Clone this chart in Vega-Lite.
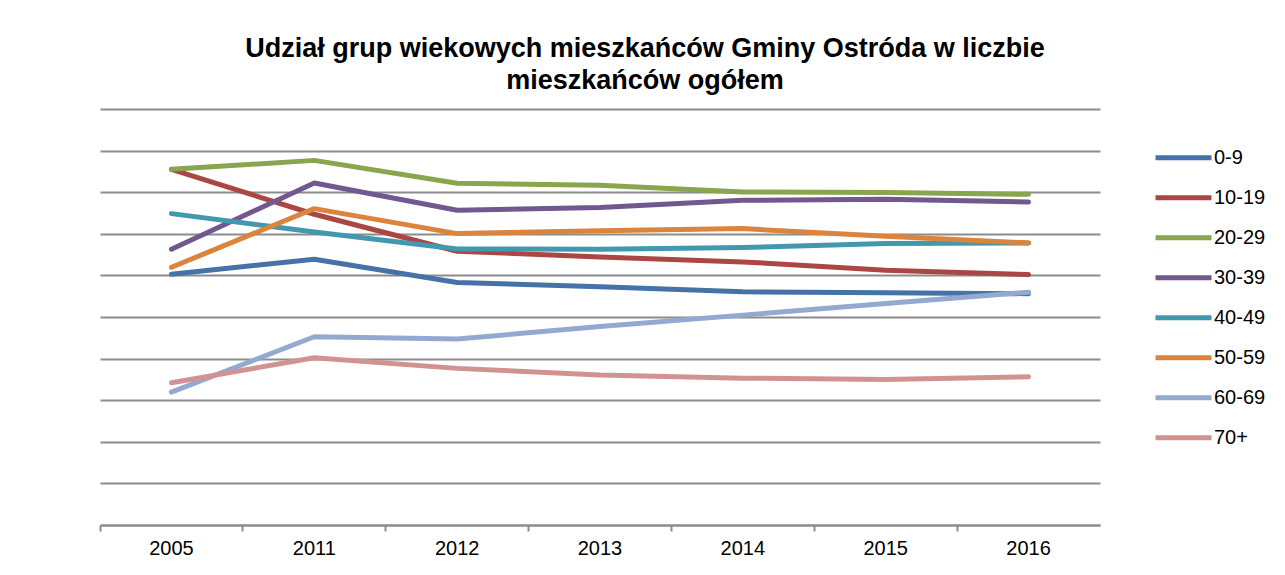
{
  "$schema": "https://vega.github.io/schema/vega-lite/v6.json",
  "width": 1000,
  "height": 416,
  "autosize": {"type": "none"},
  "padding": {"left": 100, "top": 109, "right": 185, "bottom": 50},
  "background": "white",
  "title": {
    "text": ["Udział grup wiekowych mieszkańców Gminy Ostróda w liczbie", "mieszkańców ogółem"],
    "font": "Liberation Sans",
    "fontSize": 27,
    "fontWeight": "bold",
    "color": "#000000",
    "lineHeight": 32,
    "anchor": "middle",
    "dx": 45,
    "offset": 14
  },
  "data": {
    "values": [
      {"year": "2005", "group": "0-9", "value": 12.06},
      {"year": "2011", "group": "0-9", "value": 12.78},
      {"year": "2012", "group": "0-9", "value": 11.66},
      {"year": "2013", "group": "0-9", "value": 11.45},
      {"year": "2014", "group": "0-9", "value": 11.21},
      {"year": "2015", "group": "0-9", "value": 11.17},
      {"year": "2016", "group": "0-9", "value": 11.12},
      {"year": "2005", "group": "10-19", "value": 17.10},
      {"year": "2011", "group": "10-19", "value": 14.94},
      {"year": "2012", "group": "10-19", "value": 13.16},
      {"year": "2013", "group": "10-19", "value": 12.89},
      {"year": "2014", "group": "10-19", "value": 12.65},
      {"year": "2015", "group": "10-19", "value": 12.25},
      {"year": "2016", "group": "10-19", "value": 12.04},
      {"year": "2005", "group": "20-29", "value": 17.10},
      {"year": "2011", "group": "20-29", "value": 17.53},
      {"year": "2012", "group": "20-29", "value": 16.43},
      {"year": "2013", "group": "20-29", "value": 16.33},
      {"year": "2014", "group": "20-29", "value": 16.01},
      {"year": "2015", "group": "20-29", "value": 15.98},
      {"year": "2016", "group": "20-29", "value": 15.90},
      {"year": "2005", "group": "30-39", "value": 13.26},
      {"year": "2011", "group": "30-39", "value": 16.44},
      {"year": "2012", "group": "30-39", "value": 15.13},
      {"year": "2013", "group": "30-39", "value": 15.26},
      {"year": "2014", "group": "30-39", "value": 15.61},
      {"year": "2015", "group": "30-39", "value": 15.66},
      {"year": "2016", "group": "30-39", "value": 15.53},
      {"year": "2005", "group": "40-49", "value": 14.97},
      {"year": "2011", "group": "40-49", "value": 14.09},
      {"year": "2012", "group": "40-49", "value": 13.27},
      {"year": "2013", "group": "40-49", "value": 13.26},
      {"year": "2014", "group": "40-49", "value": 13.34},
      {"year": "2015", "group": "40-49", "value": 13.53},
      {"year": "2016", "group": "40-49", "value": 13.56},
      {"year": "2005", "group": "50-59", "value": 12.39},
      {"year": "2011", "group": "50-59", "value": 15.21},
      {"year": "2012", "group": "50-59", "value": 14.01},
      {"year": "2013", "group": "50-59", "value": 14.15},
      {"year": "2014", "group": "50-59", "value": 14.25},
      {"year": "2015", "group": "50-59", "value": 13.88},
      {"year": "2016", "group": "50-59", "value": 13.56},
      {"year": "2005", "group": "60-69", "value": 6.39},
      {"year": "2011", "group": "60-69", "value": 9.05},
      {"year": "2012", "group": "60-69", "value": 8.94},
      {"year": "2013", "group": "60-69", "value": 9.54},
      {"year": "2014", "group": "60-69", "value": 10.09},
      {"year": "2015", "group": "60-69", "value": 10.65},
      {"year": "2016", "group": "60-69", "value": 11.19},
      {"year": "2005", "group": "70+", "value": 6.84},
      {"year": "2011", "group": "70+", "value": 8.04},
      {"year": "2012", "group": "70+", "value": 7.53},
      {"year": "2013", "group": "70+", "value": 7.21},
      {"year": "2014", "group": "70+", "value": 7.06},
      {"year": "2015", "group": "70+", "value": 7.00},
      {"year": "2016", "group": "70+", "value": 7.13}
    ]
  },
  "mark": {"type": "line", "strokeWidth": 5, "strokeCap": "round", "strokeJoin": "round"},
  "encoding": {
    "x": {
      "field": "year",
      "type": "ordinal",
      "scale": {"type": "band", "paddingInner": 0, "paddingOuter": 0},
      "axis": {
        "title": null,
        "labelAngle": 0,
        "labelFont": "Liberation Sans",
        "labelFontSize": 20,
        "labelColor": "#000000",
        "labelPadding": 7,
        "domainColor": "#8c8c8c",
        "domainWidth": 2,
        "tickColor": "#8c8c8c",
        "tickWidth": 2,
        "tickSize": 6,
        "bandPosition": 0,
        "grid": false
      }
    },
    "y": {
      "field": "value",
      "type": "quantitative",
      "scale": {"domain": [0, 20], "nice": false, "zero": true},
      "axis": {
        "title": null,
        "labels": false,
        "ticks": false,
        "domain": false,
        "values": [0, 2, 4, 6, 8, 10, 12, 14, 16, 18, 20],
        "grid": true,
        "gridColor": "#8c8c8c",
        "gridWidth": 2,
        "gridOpacity": 1
      }
    },
    "color": {
      "field": "group",
      "type": "nominal",
      "scale": {
        "domain": ["0-9", "10-19", "20-29", "30-39", "40-49", "50-59", "60-69", "70+"],
        "range": ["#4572A7", "#AA4643", "#89A54E", "#71588F", "#4198AF", "#DB843D", "#93A9CF", "#D19392"]
      },
      "legend": {
        "title": null,
        "orient": "none",
        "legendX": 1053,
        "legendY": 29,
        "symbolType": "stroke",
        "symbolSize": 3136,
        "symbolStrokeWidth": 5,
        "labelFont": "Liberation Sans",
        "labelFontSize": 20,
        "labelColor": "#000000",
        "labelOffset": 0,
        "clipHeight": 39.7,
        "rowPadding": 0
      }
    }
  },
  "config": {
    "view": {"stroke": null}
  }
}
